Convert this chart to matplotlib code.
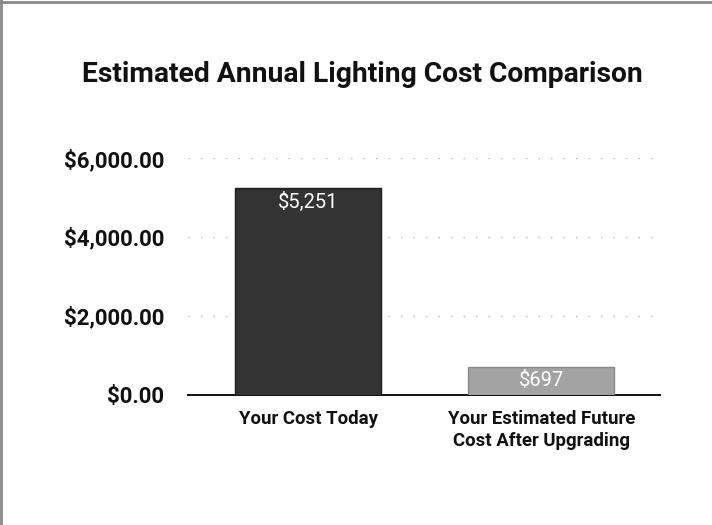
import matplotlib.pyplot as plt
from matplotlib.lines import Line2D
from matplotlib.ticker import FuncFormatter

# chart data
categories = ["Your Cost Today", "Your Estimated Future\nCost After Upgrading"]
costs = [5251, 697]
value_labels = ["$5,251", "$697"]
y_ticks = [0, 2000, 4000, 6000]

bar_colors = ["#333333", "#a3a3a3"]

plt.rcParams['font.family'] = ['Roboto', 'DejaVu Sans']

fig = plt.figure(figsize=(7.12, 5.25), dpi=100)
ax = fig.add_axes([0.264, 0.248, 0.663, 0.451])

x = range(len(categories))
bars = ax.bar(x, costs, width=0.627, color=bar_colors, edgecolor=["#1e1e1e", "#8a8a8a"],
              linewidth=1, zorder=3)

# value labels inside top of bars
for bar, txt in zip(bars, value_labels):
    ax.annotate(txt, (bar.get_x() + bar.get_width() / 2, bar.get_height()),
                xytext=(0, -3), textcoords="offset points", ha="center", va="top",
                color="white", fontsize=14.5, zorder=4)

ax.set_xlim(-0.517, 1.509)
ax.set_ylim(0, 6000)
ax.set_yticks(y_ticks)
ax.yaxis.set_major_formatter(FuncFormatter(lambda v, p: f"${v:,.2f}"))
ax.set_xticks(list(x))
ax.set_xticklabels(categories, fontweight="bold", fontsize=13.4, linespacing=1.3)

for lbl in ax.get_yticklabels():
    lbl.set_fontweight("bold")
    lbl.set_fontsize(16)

ax.tick_params(axis="both", length=0, colors="#111111")
ax.tick_params(axis="y", pad=17)
ax.tick_params(axis="x", pad=11)

ax.yaxis.grid(True, linestyle=(0, (1, 8)), color="#b8b8b8", linewidth=1, zorder=0)
for side in ["left", "right", "top"]:
    ax.spines[side].set_visible(False)
ax.spines["bottom"].set_color("#111111")
ax.spines["bottom"].set_linewidth(1.4)

fig.text(0.509, 0.8438, "Estimated Annual Lighting Cost Comparison", ha="center", va="baseline",
         fontsize=20.3, fontweight="bold", color="#111111")

# scan border on top and left edges
fig.add_artist(Line2D([0.002, 0.002], [0, 1], transform=fig.transFigure, color="#888888", lw=2))
fig.add_artist(Line2D([0, 1], [0.997, 0.997], transform=fig.transFigure, color="#888888", lw=2))

fig.savefig("out.png", dpi=100, facecolor="white")
